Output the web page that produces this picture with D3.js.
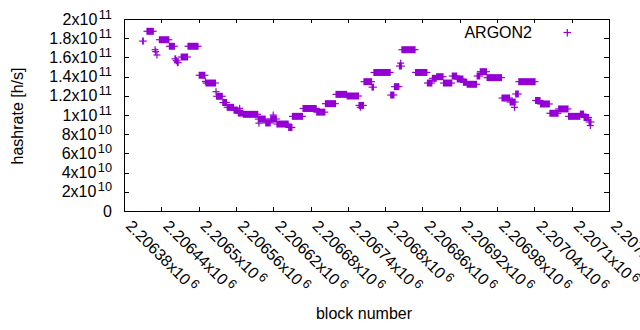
<!DOCTYPE html>
<html>
<head>
<meta charset="utf-8">
<script src="https://cdn.jsdelivr.net/npm/d3@7"></script>
<style>
  body { margin: 0; background: #fff; }
  text { font-family: "Liberation Sans", Arial, sans-serif; fill: #000; }
</style>
</head>
<body>
<script>
// hashrate runs: the value stays the same from runStart to runEnd (block numbers)
const runStart = [2206410, 2206417, 2206430, 2206431, 2206433, 2206437, 2206453, 2206462, 2206464, 2206466,
  2206472, 2206483, 2206501, 2206511, 2206512, 2206528, 2206529, 2206539, 2206546, 2206557,
  2206564, 2206566, 2206572, 2206596, 2206597, 2206608, 2206616, 2206620, 2206626, 2206645,
  2206651, 2206668, 2206690, 2206704, 2206721, 2206739, 2206758, 2206760, 2206766, 2206779,
  2206782, 2206809, 2206815, 2206823, 2206825, 2206827, 2206849, 2206868, 2206876, 2206883,
  2206894, 2206908, 2206916, 2206926, 2206932, 2206948, 2206953, 2206964, 2206988, 2207001,
  2207008, 2207010, 2207015, 2207042, 2207050, 2207065, 2207079, 2207095, 2207114, 2207120,
  2207128, 2207130]
const runEnd = [2206411, 2206427, 2206430, 2206431, 2206433, 2206452, 2206461, 2206463, 2206465, 2206467,
  2206482, 2206499, 2206510, 2206511, 2206527, 2206528, 2206538, 2206545, 2206556, 2206563,
  2206571, 2206566, 2206595, 2206607, 2206597, 2206615, 2206625, 2206620, 2206644, 2206650,
  2206667, 2206689, 2206703, 2206720, 2206738, 2206757, 2206765, 2206760, 2206778, 2206781,
  2206808, 2206814, 2206822, 2206826, 2206825, 2206848, 2206867, 2206875, 2206882, 2206893,
  2206907, 2206915, 2206925, 2206931, 2206947, 2206952, 2206963, 2206987, 2207000, 2207009,
  2207008, 2207014, 2207041, 2207049, 2207064, 2207078, 2207094, 2207113, 2207119, 2207127,
  2207131, 2207130]
const runRate = [1.77e11, 1.872e11, 1.68e11, 1.66e11, 1.625e11, 1.784e11, 1.716e11, 1.585e11, 1.565e11, 1.545e11,
  1.604e11, 1.716e11, 1.414e11, 1.35e11, 1.333e11, 1.243e11, 1.195e11, 1.13e11, 1.08e11, 1.05e11,
  1.02e11, 1.07e11, 1.007e11, 0.958e11, 0.915e11, 0.917e11, 0.958e11, 1.0e11, 0.906e11, 0.87e11,
  0.986e11, 1.068e11, 1.03e11, 1.118e11, 1.215e11, 1.198e11, 1.10e11, 1.08e11, 1.347e11, 1.29e11,
  1.443e11, 1.208e11, 1.295e11, 1.51e11, 1.54e11, 1.68e11, 1.443e11, 1.333e11, 1.382e11, 1.399e11,
  1.333e11, 1.406e11, 1.375e11, 1.34e11, 1.32e11, 1.406e11, 1.451e11, 1.389e11, 1.177e11, 1.135e11,
  1.08e11, 1.219e11, 1.347e11, 1.151e11, 1.115e11, 1.018e11, 1.063e11, 0.986e11, 1.01e11, 0.974e11,
  0.927e11, 0.89e11]

// tick values and labels (mantissa + superscript exponent)
const xTicks = [2206380, 2206440, 2206500, 2206560, 2206620, 2206680, 2206740,
  2206800, 2206860, 2206920, 2206980, 2207040, 2207100, 2207160]
const xTickBase = ["2.20638x10", "2.20644x10", "2.2065x10", "2.20656x10", "2.20662x10", "2.20668x10", "2.20674x10",
  "2.2068x10", "2.20686x10", "2.20692x10", "2.20698x10", "2.20704x10", "2.2071x10", "2.20716x10"]
const xTickExp = ["6", "6", "6", "6", "6", "6", "6", "6", "6", "6", "6", "6", "6", "6"]
const yTicks = [0, 2e10, 4e10, 6e10, 8e10, 1e11, 1.2e11, 1.4e11, 1.6e11, 1.8e11, 2e11]
const yTickBase = ["0", "2x10", "4x10", "6x10", "8x10", "1x10", "1.2x10", "1.4x10", "1.6x10", "1.8x10", "2x10"]
const yTickExp = ["", "10", "10", "10", "10", "11", "11", "11", "11", "11", "11"]

const seriesName = "ARGON2"
const color = "#9400d3"

const W = 640, H = 330
const margin = {top: 19, right: 31, bottom: 119, left: 124}

const svg = d3.select("body").append("svg")
    .attr("width", W)
    .attr("height", H)

const xScale = d3.scaleLinear()
    .domain([2206380, 2207160])
    .range([margin.left, W - margin.right])

const yScale = d3.scaleLinear()
    .domain([0, 2e11])
    .range([H - margin.bottom, margin.top])

const x0 = margin.left, x1 = W - margin.right
const y0 = H - margin.bottom, y1 = margin.top

// ticks (inward, mirrored on top/right)
const tk = svg.append("g").attr("stroke", "#000").attr("stroke-width", 1)
yTicks.forEach(v => {
    const y = Math.round(yScale(v)) + 0.5
    tk.append("line").attr("x1", x0).attr("x2", x0 + 5).attr("y1", y).attr("y2", y)
    tk.append("line").attr("x1", x1 - 5).attr("x2", x1).attr("y1", y).attr("y2", y)
})
xTicks.forEach(v => {
    const x = Math.round(xScale(v)) + 0.5
    tk.append("line").attr("x1", x).attr("x2", x).attr("y1", y0).attr("y2", y0 - 4)
    tk.append("line").attr("x1", x).attr("x2", x).attr("y1", y1).attr("y2", y1 + 4)
})

// border
svg.append("rect")
    .attr("x", x0 + 0.5).attr("y", y1 + 0.5)
    .attr("width", x1 - x0).attr("height", y0 - y1)
    .attr("fill", "none").attr("stroke", "#000")

// y tick labels
yTicks.forEach((v, i) => {
    const t = svg.append("text")
        .attr("x", 112)
        .attr("y", yScale(v) + 5.5)
        .attr("text-anchor", "end")
        .style("font-size", "16px")
    t.append("tspan").text(yTickBase[i])
    if (yTickExp[i]) {
        t.append("tspan").text(" ").style("font-size", "5px")
        t.append("tspan").attr("dy", -6).style("font-size", "12.8px").text(yTickExp[i])
    }
})

// x tick labels, rotated
xTicks.forEach((v, i) => {
    const t = svg.append("text")
        .attr("transform", "translate(" + (xScale(v) + 1) + ",227) rotate(45)")
        .style("font-size", "16px")
    t.append("tspan").text(xTickBase[i])
    t.append("tspan").text(" ").style("font-size", "9px")
    t.append("tspan").attr("dy", -5).style("font-size", "12.8px").text(xTickExp[i])
})

// axis titles
svg.append("text")
    .attr("transform", "translate(23,116) rotate(-90)")
    .attr("text-anchor", "middle")
    .style("font-size", "16px")
    .text("hashrate [h/s]")

svg.append("text")
    .attr("x", 364)
    .attr("y", 319)
    .attr("text-anchor", "middle")
    .style("font-size", "16px")
    .text("block number")

// points: each run of equal values shows as overlapping '+' markers
const runs = runStart.map((s, i) => ({s: s, e: runEnd[i], v: runRate[i]}))
const pts = svg.append("g")
pts.selectAll(".bar").data(runs).enter()
    .append("rect")
    .attr("x", d => xScale(d.s) - 0.6)
    .attr("width", d => xScale(d.e) - xScale(d.s) + 1.2)
    .attr("y", d => yScale(d.v) - 3.5)
    .attr("height", 7)
    .attr("fill", color)
pts.selectAll(".arm").data(runs).enter()
    .append("line")
    .attr("x1", d => xScale(d.s) - 3.5)
    .attr("x2", d => xScale(d.e) + 3.5)
    .attr("y1", d => yScale(d.v))
    .attr("y2", d => yScale(d.v))
    .attr("stroke", color)
    .attr("stroke-width", 1.2)

// legend
svg.append("text")
    .attr("x", 532)
    .attr("y", 37.5)
    .attr("text-anchor", "end")
    .style("font-size", "16px")
    .text(seriesName)
const lg = svg.append("g").attr("stroke", color).attr("stroke-width", 1.2)
lg.append("line").attr("x1", 563.5).attr("x2", 571).attr("y1", 32.5).attr("y2", 32.5)
lg.append("line").attr("x1", 567.3).attr("x2", 567.3).attr("y1", 29).attr("y2", 36.5)
</script>
</body>
</html>
